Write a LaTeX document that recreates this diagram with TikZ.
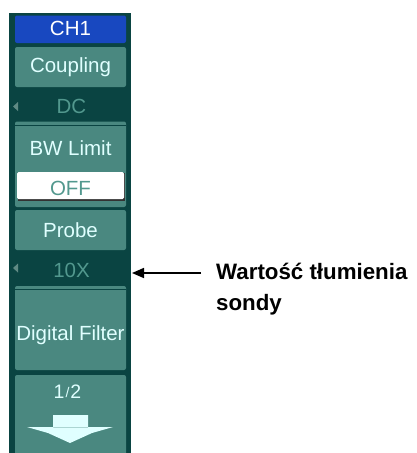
\documentclass[tikz,border=0pt]{standalone}
\usepackage{fontspec}
\usetikzlibrary{arrows.meta}
\newfontfamily\panelfont{Liberation Sans}
\newfontfamily\labelfont{Liberation Sans}
\definecolor{paneldark}{RGB}{10,68,66}
\definecolor{keyteal}{RGB}{74,136,128}
\definecolor{keytext}{RGB}{224,255,255}
\definecolor{valtext}{RGB}{82,152,142}
\definecolor{chblue}{RGB}{24,72,192}
\definecolor{marker}{RGB}{96,138,132}
\tikzset{
  keybox/.style={fill=keyteal, draw=none, rounded corners=2pt},
  keylabel/.style={anchor=base, text=keytext, inner sep=0pt,
    font=\panelfont\fontsize{20.5}{20.5}\selectfont},
  vallabel/.style={anchor=base, text=valtext, inner sep=0pt,
    font=\panelfont\fontsize{20.5}{20.5}\selectfont},
  bevel/.style={draw=paneldark, line width=1pt},
  leftmark/.style={fill=marker, draw=none},
  note/.style={anchor=base west, inner sep=0pt, text=black,
    font=\labelfont\bfseries\fontsize{22.3}{22.3}\selectfont},
  pointer/.style={draw=black, line width=1.6pt, -{Triangle[length=12pt,width=10pt]}}
}
\begin{document}
\begin{tikzpicture}[x=1pt,y=-1pt]
\useasboundingbox (0,0) rectangle (416,453);
\fill[white] (0,0) rectangle (416,453);

% menu panel background
\fill[paneldark] (9,12.5) rectangle (131,453);

% CH1 title
\fill[chblue, rounded corners=2pt] (15,15.5) rectangle (126,43);
\node[keylabel, text=white] (ch) at (70.5,35) {CH1};

% Coupling key and its value row
\fill[keybox] (15,47) rectangle (126,87);
\node[keylabel] (coupling) at (70.5,72) {Coupling};
\fill[leftmark] (13,106.5) -- (18,102) -- (18,111) -- cycle;
\node[vallabel] (dc) at (71.5,113) {DC};

% BW Limit key with its switch
\fill[keybox] (15,121.5) rectangle (126,207);
\draw[bevel] (15,125.5) -- (126,125.5);
\node[keylabel] (bw) at (70.5,155) {BW Limit};
\fill[black!80] (18,173) rectangle (125,200.5);
\fill[white, rounded corners=1.5pt] (17,172) rectangle (124,199);
\node[vallabel] (off) at (70.5,195) {OFF};

% Probe key and its value row
\fill[keybox] (15,210) rectangle (126,250);
\node[keylabel] (probe) at (70.5,237) {Probe};
\fill[leftmark] (13,268) -- (18,263.5) -- (18,272.5) -- cycle;
\node[vallabel] (tenx) at (71.5,277) {10X};

% Digital Filter key
\fill[keybox] (15,286) rectangle (126,370);
\draw[bevel] (15,289.5) -- (126,289.5);
\node[keylabel] (filter) at (70.5,340) {Digital Filter};

% page key with down arrow
\fill[keybox] (15,375) rectangle (126,460);
\node[keylabel, font=\panelfont\fontsize{19.5}{19.5}\selectfont] (page) at (67.5,398) {1\kern1pt\raisebox{0.5pt}{\fontsize{14}{14}\selectfont/}\kern1pt2};
\fill[keytext] (53,415) rectangle (88,427.5)
  (27,427) -- (113,427) -- (92,433) -- (70,443) -- (48,433) -- cycle;

% annotation
\coordinate (tail) at (201,273);
\coordinate (tip) at (132,273);
\draw[pointer] (tail) -- (tip);
\node[note] (note1) at (216,279) {Wartość tłumienia};
\node[note] (note2) at (216,310) {sondy};
\end{tikzpicture}
\end{document}
